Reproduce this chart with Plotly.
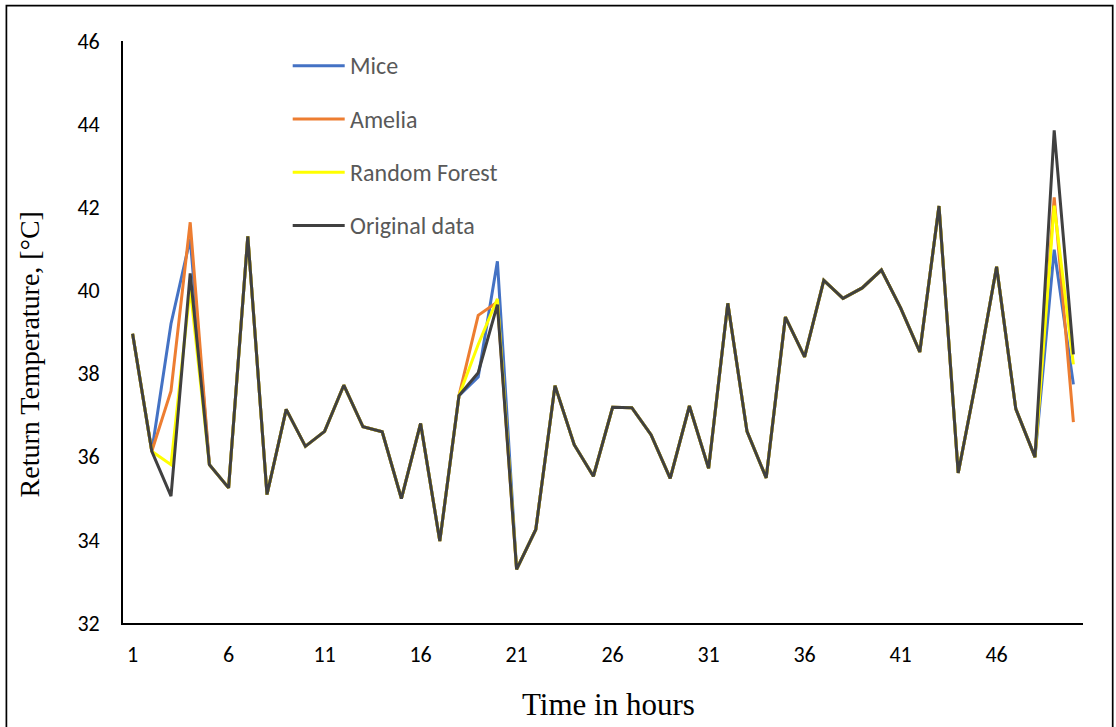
import plotly.graph_objects as go

# Hourly return temperature: measured series and three imputation methods
hours = list(range(1, 51))

original = [38.96, 36.13, 35.05, 40.41, 35.81, 35.25, 41.30, 35.09, 37.14, 36.25,
            36.61, 37.72, 36.72, 36.60, 34.99, 36.80, 33.97, 37.47, 38.02, 39.66,
            33.29, 34.25, 37.71, 36.29, 35.53, 37.19, 37.18, 36.53, 35.48, 37.22,
            35.72, 39.69, 36.61, 35.49, 39.36, 38.40, 40.24, 39.81, 40.06, 40.49,
            39.58, 38.52, 42.03, 35.61, 37.99, 40.57, 37.15, 35.99, 43.85, 38.46]

# Imputed values differ from the original only at the gap hours
mice_fill = {3: 39.20, 4: 41.24, 19: 37.92, 20: 40.70, 49: 40.98, 50: 37.74}
amelia_fill = {3: 37.58, 4: 41.64, 19: 39.40, 20: 39.72, 49: 42.24, 50: 36.83}
rf_fill = {3: 35.81, 4: 40.05, 19: 38.70, 20: 39.80, 49: 42.04, 50: 38.22}

mice = [mice_fill.get(h, v) for h, v in zip(hours, original)]
amelia = [amelia_fill.get(h, v) for h, v in zip(hours, original)]
random_forest = [rf_fill.get(h, v) for h, v in zip(hours, original)]

series_names = ["Mice", "Amelia", "Random Forest", "Original data"]
series_values = [mice, amelia, random_forest, original]
series_colors = ["#4472C4", "#ED7D31", "#FFFF00", "#404040"]

x_ticks = [1, 6, 11, 16, 21, 26, 31, 36, 41, 46]
y_ticks = [32, 34, 36, 38, 40, 42, 44, 46]

W, H = 1116, 727
L, R, T, B = 123.3, 1083.3, 41.3, 623.3


def px_x(p):
    return (p - L) / (R - L)


def px_y(p):
    return (B - p) / (B - T)


tick_font = dict(family="Carlito, Calibri, Lato, sans-serif", size=22, color="#000000")
legend_font = dict(family="Carlito, Calibri, Lato, sans-serif", size=24, color="#595959")
title_font = dict(family="Liberation Serif, Times New Roman, serif", size=31, color="#000000")

fig = go.Figure()
for name, vals, col in zip(series_names, series_values, series_colors):
    fig.add_trace(go.Scatter(x=hours, y=vals, mode="lines", name=name,
                             line=dict(color=col, width=3), showlegend=False))

shapes = []
annotations = []

# Legend drawn inside the plot area
legend_rows = [66.0, 119.3, 172.6, 225.8]
for name, col, yrow in zip(series_names, series_colors, legend_rows):
    shapes.append(dict(type="line", xref="paper", yref="paper",
                       x0=px_x(293), x1=px_x(345), y0=px_y(yrow), y1=px_y(yrow),
                       line=dict(color=col, width=3)))
    annotations.append(dict(text=name, xref="paper", yref="paper",
                            x=px_x(348), y=px_y(yrow), xanchor="left", yanchor="middle",
                            showarrow=False, font=legend_font))

# Axis titles
annotations.append(dict(text="Time in hours", xref="paper", yref="paper",
                        x=px_x(608.7), y=px_y(705), xanchor="center", yanchor="middle",
                        showarrow=False, font=title_font))
annotations.append(dict(text="Return Temperature, [°C]", xref="paper", yref="paper",
                        x=px_x(30), y=px_y(355), xanchor="center", yanchor="middle",
                        textangle=-90, showarrow=False, font=dict(title_font, size=28)))

# Outer frame
shapes.append(dict(type="rect", xref="paper", yref="paper",
                   x0=px_x(6.7), x1=px_x(1113), y0=px_y(745), y1=px_y(6),
                   line=dict(color="#000000", width=1.7), fillcolor="rgba(0,0,0,0)",
                   layer="below"))

fig.update_layout(
    width=W, height=H,
    margin=dict(l=L, r=W - R, t=T, b=H - B, pad=0),
    paper_bgcolor="white", plot_bgcolor="white",
    shapes=shapes, annotations=annotations,
    showlegend=False,
)
fig.update_xaxes(range=[0.5, 50.5], tickvals=x_ticks, ticktext=[str(v) for v in x_ticks],
                 showgrid=False, zeroline=False, showline=True, linecolor="#000000",
                 linewidth=1.7, ticks="", ticklabelstandoff=11, tickfont=tick_font,
                 automargin=False)
fig.update_yaxes(range=[32, 46], tickvals=y_ticks, ticktext=[str(v) for v in y_ticks],
                 showgrid=False, zeroline=False, showline=True, linecolor="#000000",
                 linewidth=1.7, ticks="", ticklabelstandoff=17, tickfont=tick_font,
                 automargin=False)

fig.write_html("out.html")
